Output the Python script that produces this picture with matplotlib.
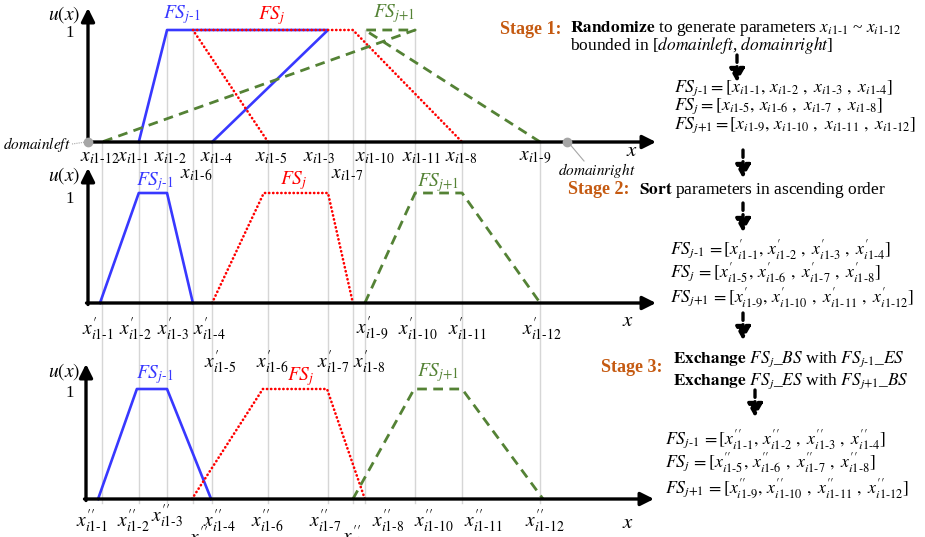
import matplotlib
matplotlib.use('Agg')
import matplotlib.pyplot as plt

plt.rcParams['font.family'] = ['Liberation Serif', 'DejaVu Serif']
plt.rcParams['mathtext.fontset'] = 'stix'

# ---------------- data ----------------
domain_bounds = [0.0, 100.0]            # domainleft, domainright
membership = [0, 1, 1, 0]               # trapezoid membership at its 4 parameters
# x_i1-1 .. x_i1-12 (FS_j-1: 1-4, FS_j: 5-8, FS_j+1: 9-12)
stage1_params = [10.6, 16.5, 50.1, 25.9, 37.6, 21.9, 55.3, 78.1, 94.4, 57.8, 68.3, 2.9]
stage2_params = [2.5, 10.6, 16.5, 21.9, 25.9, 36.7, 50.1, 55.3, 57.8, 68.3, 78.1, 94.4]
stage3_params = [2.1, 10.2, 16.5, 25.7, 21.7, 36.5, 49.9, 57.8, 55.3, 68.1, 78.1, 95.0]
param_ids = ['1', '2', '3', '4', '5', '6', '7', '8', '9', '10', '11', '12']
fs_names = [r'FS_{j\text{-1}}', r'FS_{j}', r'FS_{j\text{+1}}']
primes = ['', r'^{\prime}', r'^{\prime\prime}']

# ---------------- layout ----------------
W, H = 925, 537
X0, S = 88, 4.79          # pixel of domainleft, pixels per domain unit
fig = plt.figure(figsize=(W / 100, H / 100), dpi=100)

colors = ['#3838FF', '#FF0000', '#548235']
styles = [dict(ls='-', lw=1.9),
          dict(ls=(0, (0.1, 1.45)), lw=1.9, dash_capstyle='round'),
          dict(ls=(0, (3.5, 2.3)), lw=2.0)]
GRAY = '#D6D6D6'

panels = [
    # base_px, top_px, yaxis_x_px, ytip_px, xtip_px
    dict(base=142, top=30, yx=88, ytip=8, xtip=656),
    dict(base=303, top=193, yx=88, ytip=168, xtip=656),
    dict(base=499, top=389, yx=86, ytip=364, xtip=654),
]
# per label: (horizontal nudge px, row)
label_layout = [
    [(-6, 0), (3, 0), (-9, 0), (4, 0), (3, 0), (3, 1), (-6, 1), (-1, 0), (-5, 0), (10, 0), (6, 0), (-2, 0)],
    [(-2, 0), (-3, 0), (6, 0), (17, 0), (8, 1), (9, 1), (5, 1), (16, 1), (7, 0), (3, 0), (5, 0), (2, 0)],
    [(-6, 0), (-3, 0), (0, 2), (8, 0), (13, 1), (5, 0), (-2, 0), (23, 0), (5, 1), (20, 0), (21, 0), (2, 0)],
]
row_offsets = [[-15, -32, -15], [-26, -59, -26], [-22, -39, -17]]
all_params = [stage1_params, stage2_params, stage3_params]

axes = []
for p in panels:
    ax = fig.add_axes([0, 0, 1, 1])
    ax.set_axis_off()
    ax.patch.set_alpha(0)
    h = p['base'] - p['top']
    ax.set_xlim(-X0 / S, (W - X0) / S)
    ax.set_ylim((p['base'] - H) / h, p['base'] / h)
    axes.append((ax, h))

arrow_kw = dict(arrowstyle='-|>,head_length=0.8,head_width=0.4', lw=2.4,
                color='k', shrinkA=0, shrinkB=0)

# gray guide lines (from stage-1 parameter points down through all panels)
ax1, h1 = axes[0]
bottom_guide = (panels[0]['base'] - 503) / h1
for v, m in zip(stage1_params, membership * 3):
    ax1.plot([v, v], [m, bottom_guide], color=GRAY, lw=1.0, zorder=0.5,
             clip_on=False)

for k, ((ax, h), p, params) in enumerate(zip(axes, panels, all_params)):
    xa = (p['yx'] - X0) / S
    ax.annotate('', xy=((p['xtip'] - X0) / S, 0), xytext=(xa - 1.5 / S, 0),
                arrowprops=arrow_kw, zorder=3)
    ax.annotate('', xy=(xa, (p['base'] - p['ytip']) / h), xytext=(xa, -1.5 / h),
                arrowprops=arrow_kw, zorder=3)
    for j in range(3):
        ax.plot(params[4 * j:4 * j + 4], membership, color=colors[j],
                zorder=2 + 0.1 * j, **styles[j])
    for i, v in enumerate(params):
        nud, row = label_layout[k][i]
        txt = r'$x%s_{i\text{1-%s}}$' % (primes[k], param_ids[i])
        ax.annotate(txt, xy=(v, 0), xytext=(nud, row_offsets[k][row]),
                    textcoords='offset pixels', ha='center', va='center',
                    fontsize=14, annotation_clip=False)

# domain bound markers
ax1.plot(domain_bounds, [0, 0], 'o', color='#A6A6A6', ms=6, zorder=5)

# ---------------- annotation overlay (pixel coordinates) ----------------
ann = fig.add_axes([0, 0, 1, 1])
ann.set_axis_off()
ann.patch.set_alpha(0)
ann.set_xlim(0, W)
ann.set_ylim(H, 0)

# axis titles
for uy, oy, xx, xy in [(15, 33, 632, 152), (176, 199, 628, 322), (372, 393, 628, 524)]:
    ann.text(64, uy, r'$u(x)$', fontsize=14, ha='center', va='center')
    ann.text(70, oy, '1', fontsize=12, ha='center', va='center')
    ann.text(xx, xy, r'$x$', fontsize=15, ha='center', va='center')

# set names
name_pos = [[(182, 15), (272, 16), (394, 14)],
            [(155, 182), (294, 181), (438, 183)],
            [(155, 375), (301, 377), (438, 373)]]
for k in range(3):
    for j in range(3):
        x, y = name_pos[k][j]
        ann.text(x, y, '$%s$' % fs_names[j], color=colors[j], fontsize=14,
                 ha='center', va='center')

# domain labels
ann.text(71, 145, r'$\mathit{domainleft}$', fontsize=11, ha='right', va='center')
ann.plot([72, 86], [144, 142], color='#A6A6A6', lw=0.8, ls=(0, (1, 1)))
ann.text(597, 170, r'$\mathit{domainright}$', fontsize=11, ha='center', va='center')
ann.plot([568, 584], [142, 161], color='#A6A6A6', lw=0.8)

# stage texts
ORANGE = '#C55A11'
ann.text(500, 29, 'Stage 1:', color=ORANGE, fontsize=13, fontweight='bold',
         ha='left', va='center')
ann.text(570, 28, r'$\mathbf{Randomize}$ to generate parameters $x_{i\text{1-1}}$ ~ $x_{i\text{1-12}}$',
         fontsize=12.5, ha='left', va='center')
ann.text(570, 45, r'bounded in [$\mathit{domainleft}$, $\mathit{domainright}$]',
         fontsize=12.5, ha='left', va='center')

ann.text(568, 190, 'Stage 2:', color=ORANGE, fontsize=13, fontweight='bold',
         ha='left', va='center')
ann.text(639, 190, r'$\mathbf{Sort}$ parameters in ascending order',
         fontsize=12.5, ha='left', va='center')

ann.text(601, 368, 'Stage 3:', color=ORANGE, fontsize=13, fontweight='bold',
         ha='left', va='center')
ann.text(673, 359, r'$\mathbf{Exchange}$ $FS_j$_$BS$ with $FS_{j\text{-1}}$_$ES$',
         fontsize=12.5, ha='left', va='center')
ann.text(673, 381, r'$\mathbf{Exchange}$ $FS_j$_$ES$ with $FS_{j\text{+1}}$_$BS$',
         fontsize=12.5, ha='left', va='center')

# parameter vectors
vec_pos = [(674, [88, 106, 125]), (670, [250, 273, 298]), (665, [440, 463, 489])]
for k, (vx, ys) in enumerate(vec_pos):
    for j in range(3):
        ids = param_ids[4 * j:4 * j + 4]
        items = [r'x%s_{i\text{1-%s}}' % (primes[k], s) for s in ids]
        eq = r'=' if k == 0 else r'\,='
        s = r'$%s%s[%s,\, %s\ ,\ %s\ ,\ %s]$' % (fs_names[j], eq, *items)
        ann.text(vx, ys[j], s, fontsize=12.8, ha='left', va='center')

# dashed flow arrows
dash_kw = dict(arrowstyle='-|>,head_length=0.8,head_width=0.45', lw=2.4,
               color='k', shrinkA=0, shrinkB=0, linestyle=(0, (2.2, 1.3)))
for x, y0, y1 in [(737, 55, 82), (743, 150, 178), (743, 203, 232),
                  (743, 313, 340), (755, 390, 417)]:
    ann.annotate('', xy=(x, y1), xytext=(x, y0), arrowprops=dash_kw)

fig.savefig('out.png', dpi=100)
